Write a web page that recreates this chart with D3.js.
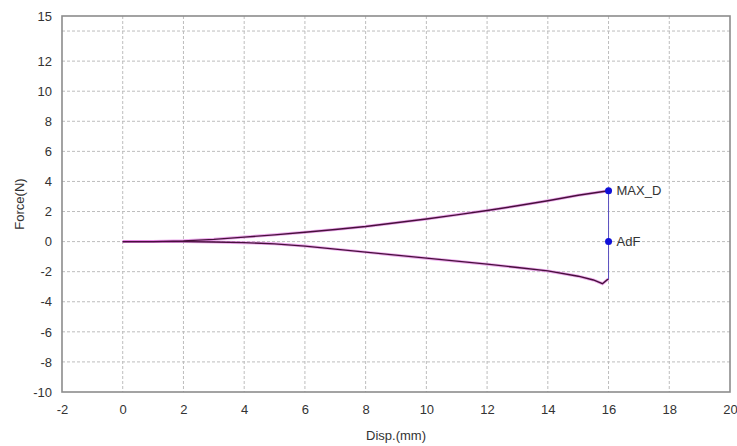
<!DOCTYPE html>
<html>
<head>
<meta charset="utf-8">
<script src="https://cdn.jsdelivr.net/npm/d3@7"></script>
<style>
  body { margin: 0; background: #fff; }
  text { font-family: "Liberation Sans", Arial, sans-serif; fill: #333; }
</style>
</head>
<body>
<div id="chart"></div>
<script>
(function(){

// Data

let dispUp = [0, 1, 2, 3, 4, 5, 6, 7, 8, 9, 10, 11, 12, 13, 14, 15, 16]
let forceUp = [0, 0, 0.05, 0.15, 0.3, 0.45, 0.62, 0.8, 1.0, 1.25, 1.5, 1.78, 2.07, 2.38, 2.72, 3.08, 3.38]

let dispDown = [16, 15.95, 15.8, 15.5, 15, 14, 13, 12, 11, 10, 9, 8, 7, 6, 5, 4, 3, 2, 1, 0]
let forceDown = [-2.5, -2.55, -2.8, -2.55, -2.3, -1.95, -1.72, -1.5, -1.3, -1.1, -0.9, -0.7, -0.5, -0.3, -0.15, -0.07, -0.03, 0, 0, 0]

let markNames = ['MAX_D', 'AdF']
let markDisp = [16, 16]
let markForce = [3.38, 0]

let xTicks = [-2, 0, 2, 4, 6, 8, 10, 12, 14, 16, 18, 20]
let yGrid = [-8, -6, -4, -2, 0, 2, 4, 6, 8, 10, 12, 14]
let yTickLabels = [-10, -8, -6, -4, -2, 0, 2, 4, 6, 8, 10, 12, 15]

let margin = { top: 16, left: 62, right: 7, bottom: 54 }
let width = 737 - margin.left - margin.right
let height = 446 - margin.top - margin.bottom

let svg = d3.select('#chart')
  .append('svg')
  .attr('width', 737)
  .attr('height', 446)
let g = svg.append('g')
  .attr('transform', 'translate(' + margin.left + ',' + margin.top + ')')

// Scales

let xScale = d3.scaleLinear().domain([-2, 20]).range([0, width])
let yScale = d3.scaleLinear().domain([-10, 15]).range([height, 0])

// Grid

g.selectAll('.vgrid')
  .data(xTicks.slice(1, -1))
  .enter().append('line')
  .attr('x1', function(d){ return xScale(d) })
  .attr('x2', function(d){ return xScale(d) })
  .attr('y1', 0)
  .attr('y2', height)
  .attr('stroke', '#bdbdbd')
  .attr('stroke-dasharray', '3,2')

g.selectAll('.hgrid')
  .data(yGrid)
  .enter().append('line')
  .attr('y1', function(d){ return yScale(d) })
  .attr('y2', function(d){ return yScale(d) })
  .attr('x1', 0)
  .attr('x2', width)
  .attr('stroke', '#bdbdbd')
  .attr('stroke-dasharray', '3,2')

// Axes (plain hyphen for negatives, like the original)

let plain = function(d){ return String(d) }

let xAxis = d3.axisBottom(xScale).tickValues(xTicks).tickFormat(plain).tickSize(0).tickPadding(13)
g.append('g')
  .attr('transform', 'translate(0,' + height + ')')
  .call(xAxis)
  .call(function(s){ s.select('.domain').remove() })
  .selectAll('text')
  .style('font-size', '13px')
  .style('fill', '#333')

let yAxis = d3.axisLeft(yScale).tickValues(yTickLabels).tickFormat(plain).tickSize(0).tickPadding(10)
g.append('g')
  .call(yAxis)
  .call(function(s){ s.select('.domain').remove() })
  .selectAll('text')
  .style('font-size', '13px')
  .style('fill', '#333')

g.append('rect')
  .attr('x', 0)
  .attr('y', 0)
  .attr('width', width)
  .attr('height', height)
  .attr('fill', 'none')
  .attr('stroke', '#8c8c8c')
  .attr('stroke-width', 1.6)

// Curves

let line = d3.line()
  .x(function(d){ return xScale(d[0]) })
  .y(function(d){ return yScale(d[1]) })

let up = d3.zip(dispUp, forceUp)
let down = d3.zip(dispDown, forceDown)

g.append('path')
  .datum(up)
  .attr('d', line)
  .attr('fill', 'none')
  .attr('stroke', '#e070e0')
  .attr('stroke-opacity', 0.6)
  .attr('stroke-width', 3)

g.append('path')
  .datum(down)
  .attr('d', line)
  .attr('fill', 'none')
  .attr('stroke', '#e070e0')
  .attr('stroke-opacity', 0.6)
  .attr('stroke-width', 3)

g.append('path')
  .datum(up)
  .attr('d', line)
  .attr('fill', 'none')
  .attr('stroke', '#48103c')
  .attr('stroke-width', 1.4)

g.append('path')
  .datum(down)
  .attr('d', line)
  .attr('fill', 'none')
  .attr('stroke', '#48103c')
  .attr('stroke-width', 1.4)

g.append('path')
  .datum([up[up.length - 1], down[0]])
  .attr('d', line)
  .attr('fill', 'none')
  .attr('stroke', '#5a50c0')
  .attr('stroke-width', 1)

// Marks

g.selectAll('.mark')
  .data(markNames)
  .enter().append('circle')
  .attr('cx', function(d, i){ return xScale(markDisp[i]) })
  .attr('cy', function(d, i){ return yScale(markForce[i]) })
  .attr('r', 3.5)
  .attr('fill', '#1010d8')

g.selectAll('.mark-label')
  .data(markNames)
  .enter().append('text')
  .attr('x', function(d, i){ return xScale(markDisp[i]) + 8 })
  .attr('y', function(d, i){ return yScale(markForce[i]) })
  .attr('dy', '0.35em')
  .style('font-size', '13px')
  .text(function(d){ return d })

// Titles

svg.append('text')
  .attr('x', margin.left + width / 2)
  .attr('y', 440)
  .attr('text-anchor', 'middle')
  .style('font-size', '13px')
  .text('Disp.(mm)')

svg.append('text')
  .attr('transform', 'translate(24,' + (margin.top + height / 2) + ') rotate(-90)')
  .attr('text-anchor', 'middle')
  .style('font-size', '13px')
  .text('Force(N)')

})()
</script>
</body>
</html>
